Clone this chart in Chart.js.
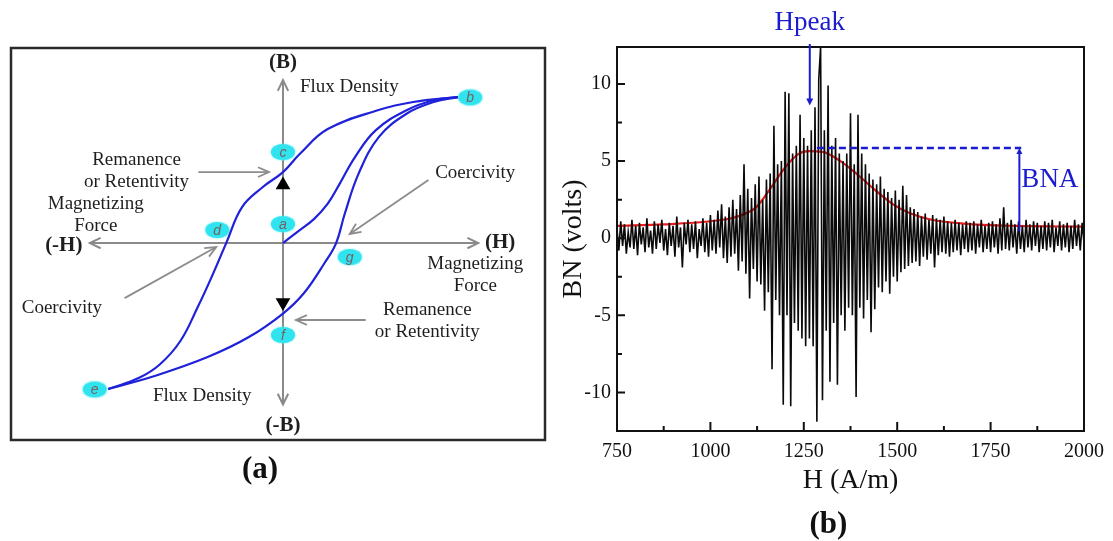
<!DOCTYPE html>
<html>
<head>
<meta charset="utf-8">
<script src="https://cdn.jsdelivr.net/npm/chart.js@4.4.0/dist/chart.umd.min.js"></script>
<style>
  html, body { margin: 0; padding: 0; background: #fff; }
  #wrap { position: relative; width: 1113px; height: 541px; overflow: hidden; }
  #loop { position: absolute; left: 0; top: 0; }
  #noise { position: absolute; left: 556px; top: 0; }
</style>
</head>
<body>
<div id="wrap">
  <canvas id="loop" width="556" height="541"></canvas>
  <canvas id="noise" width="557" height="541"></canvas>
</div>
<script>
// ---- (a) hysteresis loop, H and B in units of the saturation point b ----
const upperH = [1, 0.745, 0.547, 0.256, 0.097, 0, -0.117, -0.235, -0.323, -0.401, -0.489, -0.587, -0.705, -0.823, -1];
const upperB = [1, 0.966, 0.911, 0.781, 0.612, 0.486, 0.382, 0.245, 0.005, -0.213, -0.442, -0.671, -0.832, -0.923, -1];
const lowerH = [-1, -0.725, -0.431, -0.195, 0, 0.118, 0.236, 0.304, 0.353, 0.432, 0.549, 0.707, 0.863, 1];
const lowerB = [-1, -0.907, -0.781, -0.644, -0.483, -0.346, -0.140, 0, 0.199, 0.474, 0.727, 0.886, 0.966, 1];
const initH = [0, 0.079, 0.177, 0.255, 0.324, 0.412, 0.530, 0.707, 0.863, 1];
const initB = [0, 0.073, 0.164, 0.268, 0.405, 0.589, 0.772, 0.910, 0.978, 1];
const pointNames = ['b', 'c', 'a', 'd', 'g', 'f', 'e'];
const pointH = [1.071, 0, 0, -0.376, 0.382, 0, -1.077];
const pointB = [0.997, 0.623, 0.13, 0.089, -0.096, -0.63, -1.003];
const dirH = [0, 0];
const dirB = [0.397, -0.408];

// ---- (b) Barkhausen noise, sampled every 5 A/m from 750 A/m ----
const bnStartH = 750, bnStepH = 5;
const bnSignal = [
  0.6,-0.8,1.1,-0.5,0.9,-1.0,0.4,-0.6,1.2,-0.7,
  0.8,-1.1,1.0,-0.4,0.7,-0.9,1.3,-0.6,0.5,-1.0,
  1.1,-0.7,0.9,-0.3,1.2,-0.8,0.6,-1.1,1.0,-0.5,
  0.8,-1.2,1.4,-0.6,0.7,-1.9,1.0,-0.4,1.2,-0.9,
  0.9,-0.7,1.1,-1.3,0.6,-0.5,1.3,-0.9,1.0,-1.2,
  1.5,-0.8,1.2,-1.0,1.8,-0.6,2.2,-1.3,1.4,-1.6,
  2.0,-1.2,2.5,-1.0,1.9,-2.1,2.8,-1.5,4.8,-2.3,
  3.2,-3.9,2.6,-2.0,3.5,-2.8,4.0,-3.0,2.5,-4.7,
  3.8,-3.5,4.2,-8.5,7.3,-4.0,4.8,-5.0,5.0,-10.8,
  9.5,-5.0,9.4,-10.9,5.5,-5.5,6.0,-6.0,8.0,-6.5,
  6.5,-7.0,6.0,-6.5,7.0,-7.0,8.5,-11.9,10.3,12.4,
  -10.5,7.0,-6.0,9.9,-9.3,6.0,-5.5,6.5,-9.5,5.5,
  -5.0,5.0,-6.0,5.5,-4.5,8.1,-5.0,4.8,-10.3,8.0,
  -4.5,5.5,-5.2,4.8,-4.0,4.2,-6.1,3.8,-4.6,3.5,
  -3.2,4.0,-3.5,3.2,-2.8,3.0,-3.6,2.6,-2.5,3.1,
  -2.8,2.5,-2.2,3.4,-2.0,2.8,-1.8,2.0,-1.6,1.9,
  -1.5,1.7,-1.8,1.4,-1.2,1.6,-1.4,1.2,-1.0,1.5,
  -1.9,1.3,-1.1,1.2,-0.9,1.4,-1.0,1.1,-1.2,1.0,
  -0.9,1.2,-0.8,1.0,-1.1,0.9,-0.7,1.1,-0.9,1.0,
  -0.8,1.1,-1.0,0.9,-0.6,1.2,-0.9,0.8,-0.7,1.0,
  -0.9,1.1,-0.6,0.9,-1.0,1.3,-0.8,2.0,-0.7,1.0,
  -0.8,1.2,-0.6,0.9,-1.0,1.1,-0.7,0.8,-0.9,1.2,
  -0.6,0.9,-0.8,1.1,-0.5,1.0,-0.9,0.8,-0.7,1.1,
  -0.8,1.0,-0.6,1.2,-0.9,0.7,-0.5,1.1,-0.8,0.9,
  -0.6,1.0,-0.9,0.8,-0.7,1.2,-0.5,0.9,-0.8,1.0,
  -0.3
];
const envelopeH = [750, 877, 1000, 1066, 1122, 1160, 1197, 1235, 1263, 1300, 1348, 1395, 1442, 1489, 1536, 1592, 1677, 1818, 2000];
const envelopeBN = [0.8, 0.9, 1.1, 1.36, 2.0, 3.2, 4.5, 5.45, 5.65, 5.6, 5.0, 4.1, 3.1, 2.2, 1.6, 1.2, 0.95, 0.8, 0.75];
const hPeak = 1266;
const bnaLevel = 5.85, bnaBase = 0.45, bnaH = 1827;

const serif = '"Liberation Serif", "Times New Roman", serif';
const blue = '#1b1bd0';
const pairs = (xs, ys) => xs.map((v, i) => ({x: v, y: ys[i]}));

function chevron(ctx, x, y, ang, len, spread) {
  ctx.beginPath();
  ctx.moveTo(x - len * Math.cos(ang - spread), y - len * Math.sin(ang - spread));
  ctx.lineTo(x, y);
  ctx.lineTo(x - len * Math.cos(ang + spread), y - len * Math.sin(ang + spread));
  ctx.stroke();
}
function arrow(ctx, x1, y1, x2, y2) {
  ctx.beginPath(); ctx.moveTo(x1, y1); ctx.lineTo(x2, y2); ctx.stroke();
  chevron(ctx, x2, y2, Math.atan2(y2 - y1, x2 - x1), 12, 0.42);
}

// cyan ellipse used as point marker
const marker = document.createElement('canvas');
marker.width = 30; marker.height = 22;
(function () {
  const c = marker.getContext('2d');
  c.fillStyle = '#2fe3ef'; c.shadowColor = '#5ff0f6'; c.shadowBlur = 2;
  c.beginPath(); c.ellipse(15, 11, 12, 8, 0, 0, Math.PI * 2); c.fill();
})();

const loopLabels = [
  {t: '(B)', h: 0, b: 1.233, bold: true},
  {t: '(-B)', h: 0, b: -1.247, bold: true},
  {t: '(-H)', h: -1.254, b: -0.014, bold: true},
  {t: '(H)', h: 1.242, b: 0, bold: true},
  {t: 'Flux Density', h: 0.097, b: 1.068, left: true},
  {t: 'Flux Density', h: -0.462, b: -1.048},
  {t: 'Remanence', h: -0.838, b: 0.568},
  {t: 'or Retentivity', h: -0.838, b: 0.418},
  {t: 'Magnetizing', h: -1.071, b: 0.267},
  {t: 'Force', h: -1.071, b: 0.116},
  {t: 'Coercivity', h: 1.10, b: 0.479},
  {t: 'Coercivity', h: -1.265, b: -0.445},
  {t: 'Magnetizing', h: 1.10, b: -0.144},
  {t: 'Force', h: 1.10, b: -0.295},
  {t: 'Remanence', h: 0.826, b: -0.459},
  {t: 'or Retentivity', h: 0.826, b: -0.61}
];
const loopArrows = [
  [-0.484, 0.486, -0.08, 0.486],
  [0.832, 0.432, 0.382, 0.062],
  [-0.906, -0.377, -0.382, -0.027],
  [0.473, -0.527, 0.074, -0.527]
];

const loopDecor = {
  id: 'loopDecor',
  beforeDatasetsDraw(chart) {
    const {ctx, chartArea: a, scales: {x, y}} = chart;
    const X = v => x.getPixelForValue(v), Y = v => y.getPixelForValue(v);
    ctx.save();
    ctx.strokeStyle = '#2a2a2a'; ctx.lineWidth = 2.5;
    ctx.strokeRect(a.left, a.top, a.right - a.left, a.bottom - a.top);
    ctx.strokeStyle = '#8a8a8a'; ctx.lineWidth = 2;
    ctx.beginPath(); ctx.moveTo(X(0), Y(-1.106)); ctx.lineTo(X(0), Y(1.116)); ctx.stroke();
    ctx.beginPath(); ctx.moveTo(X(-1.105), Y(0)); ctx.lineTo(X(1.117), Y(0)); ctx.stroke();
    chevron(ctx, X(0), Y(1.116), -Math.PI / 2, 12, 0.45);
    chevron(ctx, X(0), Y(-1.106), Math.PI / 2, 12, 0.45);
    chevron(ctx, X(1.117), Y(0), 0, 12, 0.45);
    chevron(ctx, X(-1.105), Y(0), Math.PI, 12, 0.45);
    ctx.restore();
  },
  afterDatasetsDraw(chart) {
    const {ctx, chartArea: a, scales: {x, y}} = chart;
    const X = v => x.getPixelForValue(v), Y = v => y.getPixelForValue(v);
    ctx.save();
    ctx.strokeStyle = '#8c8c8c'; ctx.lineWidth = 1.8;
    loopArrows.forEach(r => arrow(ctx, X(r[0]), Y(r[1]), X(r[2]), Y(r[3])));
    ctx.textBaseline = 'middle';
    ctx.fillStyle = '#1e1e1e';
    loopLabels.forEach(l => {
      ctx.font = (l.bold ? 'bold 21px ' : '19px ') + serif;
      ctx.textAlign = l.left ? 'left' : 'center';
      ctx.fillText(l.t, X(l.h), Y(l.b));
    });
    // letters on the cyan markers
    const meta = chart.getDatasetMeta(3);
    ctx.font = 'italic 14px "Liberation Sans", Arial, sans-serif';
    ctx.fillStyle = '#7a5e5e'; ctx.textAlign = 'center';
    meta.data.forEach((p, i) => ctx.fillText(pointNames[i], p.x, p.y + 1));
    ctx.font = 'bold 31px ' + serif; ctx.fillStyle = '#111';
    ctx.fillText('(a)', X(-0.131), a.bottom + 30);
    ctx.restore();
  }
};

new Chart(document.getElementById('loop'), {
  type: 'scatter',
  data: {
    datasets: [
      {data: pairs(upperH, upperB), showLine: true, borderColor: '#1f22d8', borderWidth: 2.2, pointRadius: 0, tension: 0.4},
      {data: pairs(lowerH, lowerB), showLine: true, borderColor: '#1f22d8', borderWidth: 2.2, pointRadius: 0, tension: 0.4},
      {data: pairs(initH, initB), showLine: true, borderColor: '#1f22d8', borderWidth: 2.2, pointRadius: 0, tension: 0.4},
      {data: pairs(pointH, pointB), pointStyle: marker, pointRadius: 10},
      {data: pairs(dirH, dirB), pointStyle: 'triangle', pointRadius: 8.5, pointRotation: [0, 180],
       backgroundColor: '#000', borderColor: '#000', borderWidth: 0}
    ]
  },
  options: {
    responsive: false, animation: false, events: [],
    layout: {padding: {left: 9, right: 11, top: 48, bottom: 101}},
    plugins: {legend: {display: false}, tooltip: {enabled: false}},
    scales: {
      x: {type: 'linear', display: false, min: -1.556, max: 1.499},
      y: {type: 'linear', display: false, min: -1.349, max: 1.336}
    }
  },
  plugins: [loopDecor]
});

// ---- (b) chart ----
const noiseDecor = {
  id: 'noiseDecor',
  afterDatasetsDraw(chart) {
    const {ctx, chartArea: a, scales: {x, y}} = chart;
    const X = v => x.getPixelForValue(v), Y = v => y.getPixelForValue(v);
    ctx.save();
    ctx.strokeStyle = '#111'; ctx.lineWidth = 2;
    ctx.strokeRect(a.left, a.top, a.right - a.left, a.bottom - a.top);
    // inward ticks
    const xt = x.ticks.map(t => t.value), yt = y.ticks.map(t => t.value);
    ctx.beginPath();
    xt.forEach((v, i) => {
      ctx.moveTo(X(v), a.bottom); ctx.lineTo(X(v), a.bottom - 9);
      if (i < xt.length - 1) { const m = (v + xt[i + 1]) / 2; ctx.moveTo(X(m), a.bottom); ctx.lineTo(X(m), a.bottom - 5); }
    });
    yt.forEach((v, i) => {
      ctx.moveTo(a.left, Y(v)); ctx.lineTo(a.left + 8, Y(v));
      if (i < yt.length - 1) { const m = (v + yt[i + 1]) / 2; ctx.moveTo(a.left, Y(m)); ctx.lineTo(a.left + 5, Y(m)); }
    });
    ctx.stroke();

    // Hpeak marker
    ctx.strokeStyle = blue; ctx.fillStyle = blue; ctx.lineWidth = 2;
    const hx = X(hPeak), tipY = Y(8.6);
    ctx.beginPath(); ctx.moveTo(hx, a.top - 3); ctx.lineTo(hx, tipY - 5); ctx.stroke();
    ctx.beginPath(); ctx.moveTo(hx - 3.5, tipY - 7); ctx.lineTo(hx + 3.5, tipY - 7); ctx.lineTo(hx, tipY); ctx.closePath(); ctx.fill();
    ctx.font = '27px ' + serif; ctx.textAlign = 'center'; ctx.textBaseline = 'middle';
    ctx.fillText('Hpeak', hx, 23);

    // BNA
    ctx.lineWidth = 2.6; ctx.setLineDash([7, 4]);
    ctx.beginPath(); ctx.moveTo(X(1285), Y(bnaLevel)); ctx.lineTo(X(1832), Y(bnaLevel)); ctx.stroke();
    ctx.setLineDash([]); ctx.lineWidth = 2;
    const bx = X(bnaH), top = Y(bnaLevel);
    ctx.beginPath(); ctx.moveTo(bx, Y(bnaBase)); ctx.lineTo(bx, top + 4); ctx.stroke();
    ctx.beginPath(); ctx.moveTo(bx - 3, top + 6); ctx.lineTo(bx + 3, top + 6); ctx.lineTo(bx, top); ctx.closePath(); ctx.fill();
    ctx.textAlign = 'left';
    ctx.fillText('BNA', bx + 2, Y(3.8));

    ctx.fillStyle = '#111'; ctx.textAlign = 'center';
    ctx.font = 'bold 31px ' + serif;
    ctx.fillText('(b)', X(1316), 525);
    ctx.restore();
  }
};

new Chart(document.getElementById('noise'), {
  type: 'scatter',
  data: {
    datasets: [
      {data: bnSignal.map((v, i) => ({x: bnStartH + i * bnStepH, y: v})), showLine: true,
       borderColor: '#0a0a0a', borderWidth: 1.6, pointRadius: 0, tension: 0},
      {data: pairs(envelopeH, envelopeBN), showLine: true, borderColor: '#ee1b1b', borderWidth: 2.2,
       pointRadius: 0, cubicInterpolationMode: 'monotone'}
    ]
  },
  options: {
    responsive: false, animation: false, events: [],
    layout: {padding: {left: 0, right: 26, top: 47, bottom: 0}},
    plugins: {legend: {display: false}, tooltip: {enabled: false}},
    scales: {
      x: {
        type: 'linear', min: 750, max: 2000,
        afterFit(s) { s.height = 110; },
        grid: {display: false, drawTicks: false}, border: {display: false},
        ticks: {stepSize: 250, includeBounds: false, padding: 9, color: '#111', font: {family: serif, size: 20},
                callback: v => String(v)},
        title: {display: true, text: 'H (A/m)', color: '#111', font: {family: serif, size: 28}, padding: {top: 2, bottom: 44}}
      },
      y: {
        type: 'linear', min: -12.5, max: 12.4,
        afterFit(s) { s.width = 61; },
        grid: {display: false, drawTicks: false}, border: {display: false},
        ticks: {stepSize: 5, includeBounds: false, padding: 6, color: '#111', font: {family: serif, size: 20},
                callback: v => String(v)},
        title: {display: true, text: 'BN (volts)', color: '#111', font: {family: serif, size: 28}, padding: {top: 1, bottom: 0}}
      }
    }
  },
  plugins: [noiseDecor]
});
</script>
</body>
</html>
